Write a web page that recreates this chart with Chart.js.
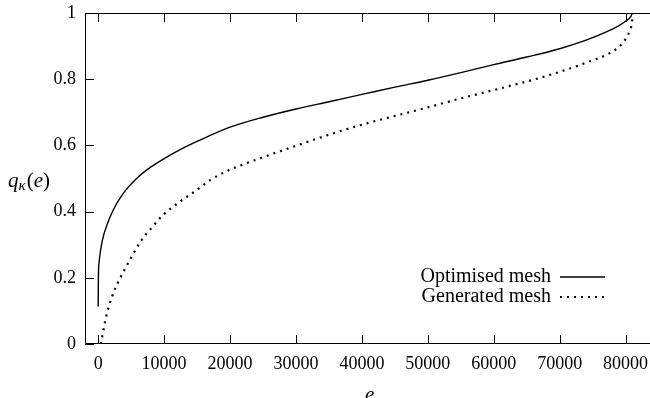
<!DOCTYPE html>
<html>
<head>
<meta charset="utf-8">
<script src="https://cdn.jsdelivr.net/npm/chart.js@4.4.1/dist/chart.umd.min.js"></script>
<style>
  html, body { margin: 0; padding: 0; background: #fff; }
  #wrap { width: 650px; height: 398px; }
</style>
</head>
<body>
<div id="wrap"><canvas id="myChart" width="650" height="398"></canvas></div>
<script>
// values
const optimisedE = [0, 30, 150, 600, 1400, 2280, 3800, 5830, 8000, 10000, 12500, 15000, 20000, 25000, 30000, 35000, 40000, 45000, 50000, 55000, 60000, 65000, 70000, 74000, 77000, 79000, 80200, 80800, 81000];
const optimisedQ = [0.113, 0.2, 0.25, 0.31, 0.363, 0.405, 0.455, 0.5, 0.535, 0.56, 0.588, 0.612, 0.655, 0.685, 0.71, 0.732, 0.754, 0.776, 0.797, 0.82, 0.844, 0.867, 0.892, 0.918, 0.942, 0.962, 0.978, 0.99, 1.0];

const generatedE = [400, 1270, 2280, 3300, 4810, 6580, 7840, 9860, 12400, 14930, 17000, 19480, 24540, 29600, 34660, 39710, 44780, 50000, 55000, 60950, 68540, 74000, 77500, 79500, 80600, 80950, 81100];
const generatedQ = [0.0, 0.088, 0.153, 0.198, 0.254, 0.314, 0.345, 0.39, 0.43, 0.465, 0.495, 0.522, 0.561, 0.596, 0.63, 0.661, 0.688, 0.715, 0.742, 0.772, 0.813, 0.85, 0.878, 0.908, 0.945, 0.97, 1.0];

const xTicks = [0, 10000, 20000, 30000, 40000, 50000, 60000, 70000, 80000];
const yTicks = [0, 0.2, 0.4, 0.6, 0.8, 1];
const seriesNames = ["Optimised mesh", "Generated mesh"];

const FONT = '"Liberation Serif", "DejaVu Serif", serif';

function toPoints(xs, ys) {
    return xs.map((x, i) => ({ x: x, y: ys[i] }));
}

// frame, inward ticks, axis titles and key, gnuplot style
const gnuplotBits = {
    id: 'gnuplotBits',
    afterDraw(chart) {
        const ctx = chart.ctx;
        const a = chart.chartArea;
        const xs = chart.scales.x;
        const ys = chart.scales.y;
        ctx.save();
        ctx.strokeStyle = '#000';
        ctx.lineWidth = 1;
        ctx.beginPath();
        ctx.moveTo(a.right, a.top + 0.5);
        ctx.lineTo(a.left + 0.5, a.top + 0.5);
        ctx.lineTo(a.left + 0.5, a.bottom - 0.5);
        ctx.lineTo(a.right, a.bottom - 0.5);
        ctx.stroke();

        const tl = 9;
        ctx.beginPath();
        xTicks.forEach(v => {
            const px = Math.round(xs.getPixelForValue(v)) + 0.5;
            ctx.moveTo(px, a.bottom);
            ctx.lineTo(px, a.bottom - tl);
            ctx.moveTo(px, a.top);
            ctx.lineTo(px, a.top + tl);
        });
        yTicks.forEach(v => {
            const py = Math.round(ys.getPixelForValue(v)) + 0.5;
            ctx.moveTo(a.left, py);
            ctx.lineTo(a.left + tl, py);
        });
        ctx.stroke();

        // axis titles
        ctx.fillStyle = '#000';
        ctx.textBaseline = 'alphabetic';
        ctx.textAlign = 'left';
        ctx.font = 'italic 21px ' + FONT;
        ctx.fillText('e', 365, 401);

        let tx = 8;
        const ty = 187;
        ctx.fillText('q', tx, ty);
        tx += ctx.measureText('q').width;
        ctx.font = 'italic 15px ' + FONT;
        ctx.fillText('κ', tx, ty + 3);
        tx += ctx.measureText('κ').width + 1;
        ctx.font = '21px ' + FONT;
        ctx.fillText('(', tx, ty);
        tx += ctx.measureText('(').width;
        ctx.font = 'italic 21px ' + FONT;
        ctx.fillText('e', tx, ty);
        tx += ctx.measureText('e').width;
        ctx.font = '21px ' + FONT;
        ctx.fillText(')', tx, ty);

        // key
        ctx.font = '20px ' + FONT;
        ctx.textAlign = 'right';
        ctx.textBaseline = 'middle';
        chart.data.datasets.forEach((ds, i) => {
            const rowY = 277 + i * 20;
            ctx.fillText(seriesNames[i], 551, rowY);
            ctx.save();
            ctx.strokeStyle = ds.borderColor;
            ctx.lineWidth = ds.borderWidth;
            ctx.setLineDash(ds.borderDash || []);
            ctx.beginPath();
            ctx.moveTo(560, rowY);
            ctx.lineTo(605, rowY);
            ctx.stroke();
            ctx.restore();
        });
        ctx.restore();
    }
};

const ctx = document.getElementById('myChart').getContext('2d');

const myChart = new Chart(ctx, {
    type: 'scatter',
    data: {
        datasets: [
            {
                label: seriesNames[0],
                data: toPoints(optimisedE, optimisedQ),
                showLine: true,
                borderColor: '#000',
                borderWidth: 1.4,
                pointRadius: 0,
                cubicInterpolationMode: 'monotone',
            },
            {
                label: seriesNames[1],
                data: toPoints(generatedE, generatedQ),
                showLine: true,
                borderColor: '#000',
                borderWidth: 2.2,
                borderDash: [2, 5],
                pointRadius: 0,
                cubicInterpolationMode: 'monotone',
            },
        ],
    },
    options: {
        responsive: false,
        animation: false,
        layout: { padding: { top: 13, right: 0, left: 0, bottom: 0 } },
        plugins: {
            legend: { display: false },
            tooltip: { enabled: false },
        },
        scales: {
            x: {
                type: 'linear',
                min: -2000,
                max: 83700,
                afterBuildTicks: scale => { scale.ticks = xTicks.map(v => ({ value: v })); },
                afterFit: scale => { scale.height = 54; scale.paddingRight = 0; scale.paddingLeft = 0; },
                grid: { display: false, drawTicks: false },
                border: { display: false },
                ticks: {
                    padding: 9,
                    color: '#000',
                    maxRotation: 0,
                    autoSkip: false,
                    font: { family: FONT, size: 18 },
                    callback: v => String(v),
                },
            },
            y: {
                type: 'linear',
                min: 0,
                max: 1,
                afterBuildTicks: scale => { scale.ticks = yTicks.map(v => ({ value: v })); },
                afterFit: scale => { scale.width = 85; scale.paddingTop = 0; scale.paddingBottom = 0; },
                grid: { display: false, drawTicks: false },
                border: { display: false },
                ticks: {
                    padding: 9,
                    color: '#000',
                    autoSkip: false,
                    font: { family: FONT, size: 18 },
                    callback: v => String(v),
                },
            },
        },
    },
    plugins: [gnuplotBits],
});
</script>
</body>
</html>
